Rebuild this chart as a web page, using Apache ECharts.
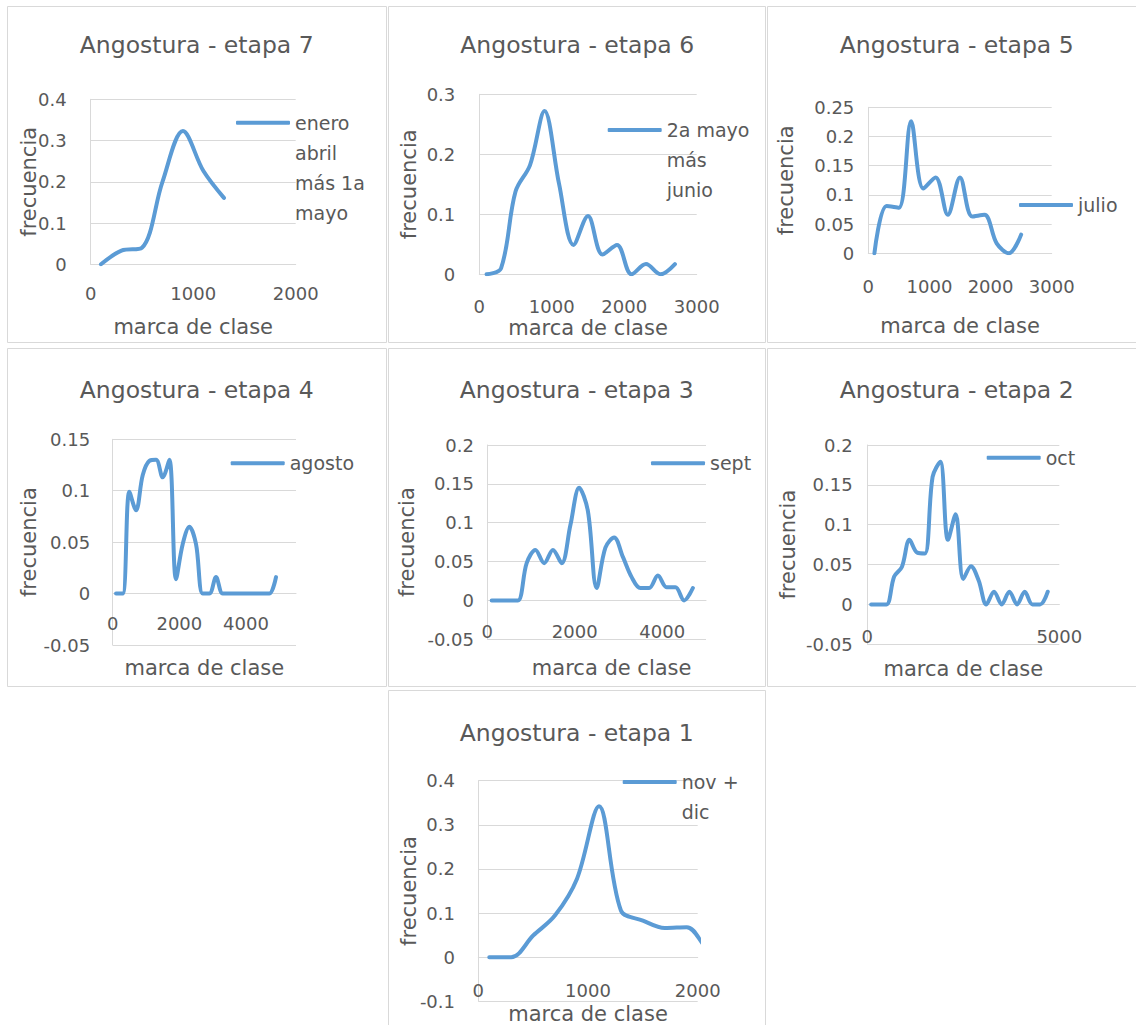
<!DOCTYPE html>
<html lang="es">
<head>
<meta charset="utf-8">
<title>Angostura - etapas</title>
<script src="https://cdn.jsdelivr.net/npm/echarts@6/dist/echarts.min.js"></script>
<style>
  html, body { margin: 0; padding: 0; background: #ffffff; overflow: hidden; }
  #chart { width: 1136px; height: 1025px; }
</style>
</head>
<body>
<div id="chart"></div>
<script>
// Marcas de clase (eje X) y frecuencias relativas de cada etapa
const marcasEtapa7 = [100, 300, 500, 700, 900, 1100, 1300];
const frecEtapa7 = [0, 0.033, 0.04, 0.2, 0.323, 0.226, 0.161];

const marcasEtapa6 = [100, 300, 500, 700, 900, 1100, 1300, 1500, 1700, 1900, 2100, 2300, 2500, 2700];
const frecEtapa6 = [0, 0.01, 0.138, 0.182, 0.272, 0.151, 0.049, 0.097, 0.033, 0.049, 0, 0.017, 0, 0.017];

const marcasEtapa5 = [100, 300, 500, 700, 900, 1100, 1300, 1500, 1700, 1900, 2100, 2300, 2500];
const frecEtapa5 = [0, 0.081, 0.078, 0.226, 0.111, 0.13, 0.066, 0.13, 0.063, 0.066, 0.017, 0, 0.032];

const marcasEtapa4 = [100, 300, 500, 700, 900, 1100, 1300, 1500, 1700, 1900, 2100, 2300, 2500,
  2700, 2900, 3100, 3300, 3500, 3700, 3900, 4100, 4300, 4500, 4700, 4900];
const frecEtapa4 = [0, 0, 0.099, 0.081, 0.115, 0.129, 0.13, 0.113, 0.13, 0.014, 0.048, 0.065, 0.048,
  0, 0, 0.016, 0, 0, 0, 0, 0, 0, 0, 0, 0.016];

const marcasEtapa3 = [100, 300, 500, 700, 900, 1100, 1300, 1500, 1700, 1900, 2100, 2300, 2500,
  2700, 2900, 3100, 3300, 3500, 3700, 3900, 4100, 4300, 4500, 4700];
const frecEtapa3 = [0, 0, 0, 0, 0.048, 0.065, 0.048, 0.065, 0.048, 0.097, 0.145, 0.115, 0.016,
  0.068, 0.081, 0.056, 0.03, 0.016, 0.016, 0.032, 0.017, 0.017, 0, 0.016];

const marcasEtapa2 = [100, 300, 500, 700, 900, 1100, 1300, 1500, 1700, 1900, 2100, 2300, 2500,
  2700, 2900, 3100, 3300, 3500, 3700, 3900, 4100, 4300, 4500, 4700];
const frecEtapa2 = [0, 0, 0, 0.035, 0.047, 0.081, 0.065, 0.064, 0.16, 0.179, 0.081, 0.113, 0.032,
  0.048, 0.03, 0, 0.016, 0, 0.016, 0, 0.016, 0, 0, 0.016];

const marcasEtapa1 = [100, 300, 500, 700, 900, 1100, 1300, 1500, 1700, 1900, 2100, 2300];
const frecEtapa1 = [0, 0, 0.049, 0.095, 0.178, 0.342, 0.106, 0.083, 0.066, 0.068, 0.016, 0];

// Títulos, nombres de serie y textos de leyenda
const titulos = ['Angostura - etapa 7', 'Angostura - etapa 6', 'Angostura - etapa 5',
  'Angostura - etapa 4', 'Angostura - etapa 3', 'Angostura - etapa 2', 'Angostura - etapa 1'];
const series = ['enero abril más 1a mayo', '2a mayo más junio', 'julio', 'agosto', 'sept', 'oct', 'nov + dic'];
const leyendas = [['enero', 'abril', 'más 1a', 'mayo'], ['2a mayo', 'más', 'junio'], ['julio'],
  ['agosto'], ['sept'], ['oct'], ['nov +', 'dic']];

// Escalas de los ejes: [mín, máx, intervalo]
const ejesX = [[0, 2000, 1000], [0, 3000, 1000], [0, 3000, 1000], [0, 5500, 2000], [0, 5000, 2000], [0, 5000, 5000], [0, 2000, 1000]];
const ejesY = [[0, 0.4, 0.1], [0, 0.3, 0.1], [0, 0.25, 0.05], [-0.05, 0.15, 0.05], [-0.05, 0.2, 0.05], [-0.05, 0.2, 0.05], [-0.1, 0.4, 0.1]];

const datos = [
  [marcasEtapa7, frecEtapa7], [marcasEtapa6, frecEtapa6], [marcasEtapa5, frecEtapa5],
  [marcasEtapa4, frecEtapa4], [marcasEtapa3, frecEtapa3], [marcasEtapa2, frecEtapa2],
  [marcasEtapa1, frecEtapa1]
];

// Disposición de cada panel en la página
const disposicion = [
  { marco: [7.5, 6.5, 379, 336],    grid: [90.7, 99.3, 205, 165],     titulo: [196.7, 44.7], xMargen: 19.4, xAlto: 20, yMargen: 24,   xGap: 51, yGap: 49.5, ley: [236, 122.7] },
  { marco: [388.5, 6.5, 377, 336],  grid: [479.3, 94.3, 217.4, 180],  titulo: [577.2, 44.7], xMargen: 23,   xAlto: 18, yMargen: 24,   xGap: 41.5, yGap: 58,   ley: [607.7, 130] },
  { marco: [767.5, 6.5, 378, 336],  grid: [868.3, 107.3, 183.4, 146], titulo: [956.7, 44.7], xMargen: 22.7, xAlto: 20, yMargen: 14,   xGap: 61, yGap: 70,   ley: [1019, 205] },
  { marco: [7.5, 348.5, 379, 338],  grid: [112.7, 439.3, 183.3, 205.7], titulo: [196.7, 389.7], xMargen: 20, xAlto: 20, yMargen: 22.5, xGap: 62, yGap: 71.5, ley: [230.7, 463.3] },
  { marco: [388.5, 348.5, 377, 338], grid: [487.3, 445, 218.7, 194.3], titulo: [576.7, 389.7], xMargen: 21, xAlto: 20, yMargen: 13.3, xGap: 56, yGap: 68.5, ley: [651, 463.3], xDesplaza: 30 },
  { marco: [767.5, 348.5, 378, 338], grid: [867.3, 445, 192, 199.3],  titulo: [956.7, 389.7], xMargen: 22.4, xAlto: 20, yMargen: 14.7, xGap: 52.5, yGap: 67.8, ley: [986.7, 457.7] },
  { marco: [388.5, 690.5, 377, 345], grid: [478.3, 780.7, 219.4, 220.6], titulo: [576.7, 732.7], xMargen: 23.4, xAlto: 20, yMargen: 23.3, xGap: 45, yGap: 57.8, ley: [622.7, 782] }
];

const FUENTE = 'DejaVu Sans';
const GRIS_TEXTO = '#595959';
const GRIS_LINEA = '#d9d9d9';
const AZUL = '#5b9bd5';
const ALTO_LINEA_LEY = 30;

const fmt = (v) => String(v);

const option = {
  backgroundColor: '#ffffff',
  animation: false,
  title: [], grid: [], xAxis: [], yAxis: [], legend: [], series: [], graphic: []
};

disposicion.forEach((d, i) => {
  const [mx, my, mw, mh] = d.marco;
  option.graphic.push({
    type: 'rect', silent: true, z: -10,
    shape: { x: mx, y: my, width: mw, height: mh },
    style: { fill: 'none', stroke: GRIS_LINEA, lineWidth: 1 }
  });

  option.title.push({
    text: titulos[i],
    left: d.titulo[0], top: d.titulo[1] - 14, textAlign: 'center', padding: 0,
    textStyle: { fontFamily: FUENTE, fontSize: 23.5, fontWeight: 'normal', color: GRIS_TEXTO, lineHeight: 28 }
  });

  const [gl, gt, gw, gh] = d.grid;
  option.grid.push({ left: gl, top: gt, width: gw, height: gh, containLabel: false, outerBoundsMode: 'none' });

  const [xmin, xmax, xint] = ejesX[i];
  const [ymin, ymax, yint] = ejesY[i];
  // El eje horizontal cruza el vertical en frecuencia 0
  const subeACero = -gh * (0 - ymin) / (ymax - ymin);

  option.xAxis.push({
    gridIndex: i, type: 'value', min: xmin, max: xmax, interval: xint,
    position: 'bottom', offset: subeACero,
    name: 'marca de clase', nameLocation: 'middle', nameGap: d.xGap, nameMoveOverlap: false,
    nameTextStyle: { fontFamily: FUENTE, fontSize: 21, color: GRIS_TEXTO, lineHeight: 24,
      padding: d.xDesplaza ? [0, 0, 0, d.xDesplaza] : 0 },
    axisLine: { show: true, onZero: false, lineStyle: { color: GRIS_LINEA, width: 1 } },
    axisTick: { show: false },
    splitLine: { show: false },
    axisLabel: { margin: d.xMargen, fontFamily: FUENTE, fontSize: 18, color: GRIS_TEXTO, lineHeight: d.xAlto,
      formatter: fmt, showMaxLabel: (xmax % xint === 0), showMinLabel: true, hideOverlap: false }
  });

  option.yAxis.push({
    gridIndex: i, type: 'value', min: ymin, max: ymax, interval: yint,
    position: 'left',
    name: 'frecuencia', nameLocation: 'middle', nameGap: d.yGap, nameMoveOverlap: false,
    nameTextStyle: { fontFamily: FUENTE, fontSize: 21, color: GRIS_TEXTO, lineHeight: 24 },
    axisLine: { show: true, onZero: false, lineStyle: { color: GRIS_LINEA, width: 1 } },
    axisTick: { show: false },
    splitLine: { show: true, lineStyle: { color: GRIS_LINEA, width: 1 } },
    axisLabel: { margin: d.yMargen, fontFamily: FUENTE, fontSize: 18, color: GRIS_TEXTO, formatter: fmt,
      showMaxLabel: true, showMinLabel: true, hideOverlap: false }
  });

  // Leyenda: la muestra de línea queda a la altura del primer renglón del texto
  const lineas = leyendas[i];
  const n = lineas.length;
  const texto = '\n'.repeat(n - 1) + lineas.join('\n');
  option.legend.push({
    data: [series[i]],
    left: d.ley[0], top: d.ley[1] - (2 * n - 1) * ALTO_LINEA_LEY / 2,
    padding: 0, itemGap: 0, selectedMode: false,
    icon: 'roundRect', itemWidth: 54, itemHeight: 4,
    formatter: () => texto,
    textStyle: { fontFamily: FUENTE, fontSize: 19, color: GRIS_TEXTO, lineHeight: ALTO_LINEA_LEY }
  });

  const [xs, ys] = datos[i];
  option.series.push({
    name: series[i], type: 'line', xAxisIndex: i, yAxisIndex: i,
    data: xs.map((x, k) => [x, ys[k]]),
    smooth: 0.34, symbol: 'none', clip: true,
    lineStyle: { color: AZUL, width: 4, cap: 'round', join: 'round' },
    itemStyle: { color: AZUL }
  });
});

const chart = echarts.init(document.getElementById('chart'), null, { renderer: 'svg' });
chart.setOption(option);
</script>
</body>
</html>
